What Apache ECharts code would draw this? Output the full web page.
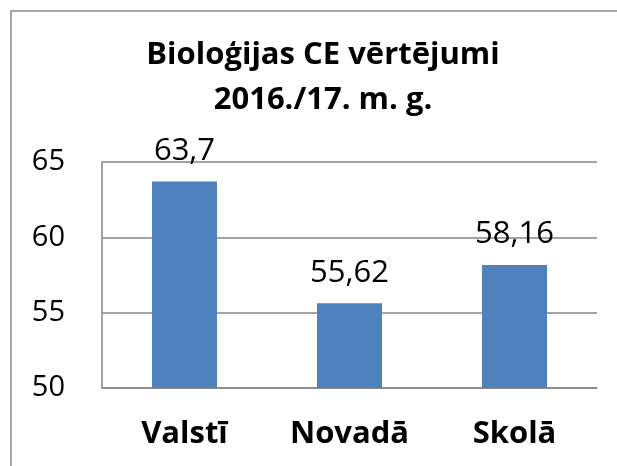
<!DOCTYPE html>
<html>
<head>
<meta charset="utf-8">
<script src="https://cdn.jsdelivr.net/npm/echarts@6/dist/echarts.min.js"></script>
<style>
  html, body { margin: 0; padding: 0; background: #fff; }
  #chart { width: 617px; height: 466px; }
</style>
</head>
<body>
<div id="chart"></div>
<script>
const categories = ['Valstī', 'Novadā', 'Skolā']
const values = [63.7, 55.62, 58.16]
const titleLines = ['Bioloģijas CE vērtējumi', '2016./17. m. g.']

const font = '"Open Sans", "Noto Sans", sans-serif'

const chart = echarts.init(document.getElementById('chart'))
chart.setOption({
  animation: false,
  backgroundColor: '#fff',
  title: {
    text: titleLines.join('\n'),
    left: 318,
    top: 28,
    textAlign: 'center',
    textStyle: {
      fontFamily: font,
      fontWeight: 'bold',
      fontSize: 31,
      lineHeight: 45,
      color: '#000',
    },
  },
  graphic: [
    {
      type: 'rect',
      shape: { x: 11, y: 11, width: 700, height: 600 },
      style: { fill: 'none', stroke: '#8a8a8a', lineWidth: 1.5 },
      silent: true,
    },
  ],
  grid: {
    left: 102,
    right: 20,
    top: 162,
    bottom: 78,
  },
  xAxis: {
    type: 'category',
    data: categories,
    axisTick: { show: false },
    axisLine: { lineStyle: { color: '#868686', width: 1.5 } },
    axisLabel: {
      margin: 31,
      fontFamily: font,
      fontWeight: 'bold',
      fontSize: 31,
      color: '#000',
    },
  },
  yAxis: {
    type: 'value',
    min: 50,
    max: 65,
    interval: 5,
    axisLine: { show: true, lineStyle: { color: '#868686', width: 1.5 } },
    axisTick: { show: false },
    splitLine: { lineStyle: { color: '#868686', width: 1.5 } },
    axisLabel: {
      margin: 37,
      fontFamily: font,
      fontSize: 29,
      color: '#000',
    },
  },
  series: [
    {
      type: 'bar',
      data: values,
      barWidth: 65,
      itemStyle: { color: '#4f81bd' },
      label: {
        show: true,
        position: 'top',
        distance: 15,
        fontFamily: font,
        fontSize: 31,
        color: '#000',
        formatter: (p) => String(p.value).replace('.', ','),
      },
    },
  ],
})
</script>
</body>
</html>
